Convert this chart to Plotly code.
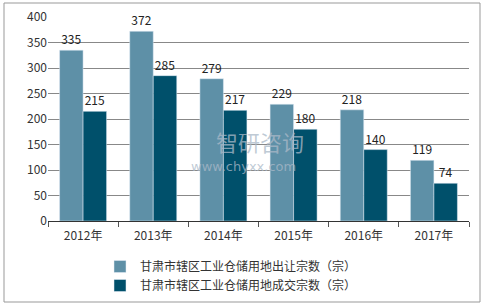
import plotly.graph_objects as go

years = ["2012年", "2013年", "2014年", "2015年", "2016年", "2017年"]
transfer = [335, 372, 279, 229, 218, 119]
deals = [215, 285, 217, 180, 140, 74]
series_names = ["甘肃市辖区工业仓储用地出让宗数（宗）", "甘肃市辖区工业仓储用地成交宗数（宗）"]

FONT = "Noto Sans CJK SC, Microsoft YaHei, sans-serif"

L, R, T, B = 48, 17, 17, 84
W, H = 486, 305
pw, ph = W - L - R, H - T - B

def px(x):
    return (x - L) / pw

def py(y):
    return (H - B - y) / ph

fig = go.Figure()
for vals, name, color in [(transfer, series_names[0], "#5E90A7"), (deals, series_names[1], "#00506B")]:
    fig.add_trace(go.Bar(x=years, y=vals, name=name, marker_color=color,
                         text=[f"{v}" for v in vals], textposition="outside",
                         textfont=dict(size=12, color="#222"), cliponaxis=False))

fig.update_layout(
    width=W, height=H,
    margin=dict(l=L, r=R, t=T, b=B, autoexpand=False),
    paper_bgcolor="white", plot_bgcolor="white",
    barmode="group", bargap=0.33, bargroupgap=0,
    font=dict(family=FONT, size=12, color="#333"),
    showlegend=True,
    legend=dict(x=px(100), y=py(252), xanchor="left", yanchor="top",
                orientation="v", font=dict(size=12, color="#333"),
                itemwidth=30, tracegroupgap=2, bgcolor="rgba(0,0,0,0)"),
    xaxis=dict(showgrid=False, showline=True, linecolor="#333", linewidth=1,
               ticks="outside", tickson="boundaries", ticklen=5, tickcolor="#555",
               ticklabelstandoff=4,
               tickfont=dict(size=12, color="#333")),
    yaxis=dict(range=[0, 400], dtick=50, showgrid=True, gridcolor="#888", gridwidth=1,
               showline=False, zeroline=False, ticks="",
               tickfont=dict(size=12, color="#333")),
    shapes=[dict(type="rect", xref="paper", yref="paper",
                 x0=px(4), x1=px(480), y0=py(302), y1=py(3),
                 line=dict(color="#999", width=1))],
    annotations=[
        dict(text="智研咨询", xref="paper", yref="paper", x=px(260), y=py(141),
             showarrow=False, borderpad=0,
             font=dict(size=22, color="rgba(170,185,200,0.75)", family=FONT)),
        dict(text="www.chyxx.com", xref="paper", yref="paper", x=px(243), y=py(175),
             showarrow=False, borderpad=0,
             font=dict(size=13, color="rgba(170,185,200,0.75)", family="DejaVu Sans")),
    ],
)

fig.write_html("out.html")
